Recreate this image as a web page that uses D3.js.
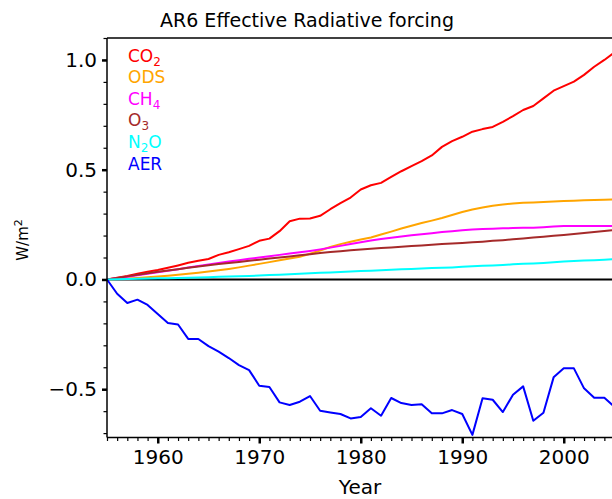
<!DOCTYPE html>
<html>
<head>
<meta charset="utf-8">
<script src="https://cdn.jsdelivr.net/npm/d3@7"></script>
<style>
  html, body { margin: 0; padding: 0; background: #fff; }
  svg { display: block; font-family: "DejaVu Sans", sans-serif; }
</style>
</head>
<body>
<svg id="chart" width="612" height="499"></svg>
<script>
const years = d3.range(1955, 2007);
const co2 = [0.0,0.008,0.016,0.026,0.035,0.043,0.053,0.064,0.076,0.085,0.093,0.112,0.124,0.138,0.153,0.176,0.186,0.22,0.265,0.277,0.278,0.29,0.32,0.348,0.373,0.41,0.429,0.44,0.467,0.493,0.516,0.539,0.565,0.604,0.63,0.65,0.673,0.685,0.695,0.718,0.744,0.772,0.79,0.825,0.86,0.881,0.901,0.932,0.969,1.0,1.035,1.06];
const ods = [0.0,0.002,0.004,0.007,0.01,0.013,0.017,0.021,0.026,0.031,0.036,0.042,0.048,0.055,0.063,0.071,0.079,0.087,0.095,0.103,0.117,0.132,0.148,0.161,0.172,0.182,0.191,0.205,0.218,0.232,0.245,0.257,0.268,0.28,0.294,0.307,0.319,0.328,0.336,0.342,0.346,0.349,0.351,0.353,0.355,0.357,0.359,0.361,0.362,0.363,0.364,0.365];
const ch4 = [0.0,0.006,0.012,0.019,0.026,0.033,0.04,0.047,0.054,0.061,0.068,0.075,0.082,0.088,0.094,0.1,0.106,0.112,0.118,0.124,0.13,0.137,0.145,0.153,0.162,0.17,0.177,0.184,0.19,0.196,0.201,0.206,0.211,0.216,0.22,0.224,0.228,0.23,0.231,0.233,0.234,0.235,0.236,0.238,0.241,0.243,0.243,0.243,0.243,0.243,0.243,0.243];
const o3 = [0.0,0.007,0.014,0.021,0.028,0.035,0.041,0.047,0.053,0.059,0.065,0.07,0.075,0.08,0.085,0.09,0.095,0.1,0.105,0.11,0.115,0.12,0.125,0.129,0.133,0.137,0.14,0.143,0.146,0.149,0.152,0.155,0.158,0.161,0.164,0.166,0.169,0.172,0.176,0.179,0.183,0.187,0.191,0.195,0.199,0.203,0.207,0.212,0.216,0.221,0.225,0.228];
const n2o = [0.0,0.001,0.002,0.003,0.004,0.005,0.006,0.007,0.008,0.009,0.01,0.012,0.013,0.015,0.016,0.018,0.02,0.022,0.024,0.026,0.028,0.03,0.032,0.034,0.036,0.038,0.04,0.042,0.044,0.046,0.048,0.05,0.052,0.053,0.055,0.058,0.06,0.062,0.064,0.066,0.069,0.071,0.073,0.075,0.078,0.082,0.084,0.086,0.088,0.09,0.093,0.095];
const aer = [0.0,-0.065,-0.107,-0.092,-0.116,-0.157,-0.198,-0.205,-0.271,-0.271,-0.304,-0.329,-0.358,-0.39,-0.413,-0.484,-0.49,-0.56,-0.572,-0.557,-0.531,-0.598,-0.606,-0.613,-0.633,-0.627,-0.587,-0.621,-0.54,-0.563,-0.572,-0.569,-0.61,-0.61,-0.595,-0.613,-0.708,-0.541,-0.548,-0.604,-0.525,-0.487,-0.644,-0.607,-0.446,-0.405,-0.405,-0.496,-0.539,-0.539,-0.58,-0.6];

const seriesNames = ["CO2","ODS","CH4","O3","N2O","AER"];
const seriesColors = ["#ff0000","#ffa500","#ff00ff","#a52a2a","#00ffff","#0000ff"];
const seriesValues = [co2, ods, ch4, o3, n2o, aer];
const legendParts = [["CO","2"],["ODS",""],["CH","4"],["O","3"],["N","2","O"],["AER",""]];
const xTicks = [1960, 1970, 1980, 1990, 2000];
const yTicks = [-0.5, 0.0, 0.5, 1.0];

const svg = d3.select("#chart");
const mLeft = 107, mTop = 38, mBottom = 437.5;
const x = d3.scaleLinear().domain([1955, 2020]).range([mLeft, mLeft + 65 * 10.15]);
const y = d3.scaleLinear().domain([-0.72, 1.1]).range([mBottom, mTop]);

// Title
svg.append("text").attr("x", 307).attr("y", 27).attr("text-anchor", "middle")
  .attr("font-size", 19).attr("fill", "#000").text("AR6 Effective Radiative forcing");

// zero line
svg.append("line").attr("x1", x(1955)).attr("x2", x(2020)).attr("y1", y(0)).attr("y2", y(0))
  .attr("stroke", "#000").attr("stroke-width", 2);

// series
const line = d3.line().x((d, i) => x(years[i])).y(d => y(d));
seriesValues.forEach((vals, k) => {
  svg.append("path").datum(vals).attr("d", line).attr("fill", "none")
    .attr("stroke", seriesColors[k]).attr("stroke-width", 2).attr("stroke-linejoin", "round");
});

// Axes
const xAxis = d3.axisBottom(x).tickValues(xTicks).tickFormat(d3.format("d")).tickSize(6).tickPadding(6);
const xMinor = d3.axisBottom(x).tickValues(d3.range(1955, 2007)).tickFormat("").tickSize(3.5);
const yAxis = d3.axisLeft(y).tickValues(yTicks).tickFormat(d3.format(".1f")).tickSize(5).tickPadding(5);
const yMinor = d3.axisLeft(y).tickValues(d3.range(-7, 12).map(v => v / 10)).tickFormat("").tickSize(3.5);

const gxm = svg.append("g").attr("transform", `translate(0,${mBottom})`).call(xMinor);
const gx = svg.append("g").attr("transform", `translate(0,${mBottom})`).call(xAxis);
const gym = svg.append("g").attr("transform", `translate(${mLeft},0)`).call(yMinor);
const gy = svg.append("g").attr("transform", `translate(${mLeft},0)`).call(yAxis);
[gxm, gym].forEach(g => { g.select(".domain").remove(); g.selectAll("line").attr("stroke-width", 1.2); });
[gx, gy].forEach(g => {
  g.select(".domain").remove();
  g.selectAll("line").attr("stroke-width", 2.5);
  g.selectAll("text").attr("font-size", 20).attr("fill", "#000").attr("font-family", "DejaVu Sans");
});
gy.selectAll("text").text(d => (d < 0 ? "\u2212" : "") + Math.abs(d).toFixed(1));

// spines
svg.append("line").attr("x1", mLeft).attr("x2", mLeft).attr("y1", mTop).attr("y2", mBottom).attr("stroke", "#000").attr("stroke-width", 1.5);
svg.append("line").attr("x1", mLeft).attr("x2", 800).attr("y1", mTop).attr("y2", mTop).attr("stroke", "#000").attr("stroke-width", 1.5);
svg.append("line").attr("x1", mLeft).attr("x2", 800).attr("y1", mBottom).attr("y2", mBottom).attr("stroke", "#000").attr("stroke-width", 1.5);

// axis labels
svg.append("text").attr("x", 360).attr("y", 494).attr("text-anchor", "middle").attr("font-size", 20).attr("fill", "#000").text("Year");
const yl = svg.append("text").attr("transform", "translate(28,240) rotate(-90)").attr("text-anchor", "middle")
  .attr("font-size", 15).attr("fill", "#000");
yl.append("tspan").text("W/m");
yl.append("tspan").attr("dy", -6).attr("font-size", 11).text("2");

// legend
const baselines = [61.5, 83, 104.5, 126, 147.5, 169.5];
legendParts.forEach((parts, k) => {
  const t = svg.append("text").attr("x", 128).attr("y", baselines[k]).attr("font-size", 17).attr("fill", seriesColors[k]);
  t.append("tspan").text(parts[0]);
  if (parts[1]) t.append("tspan").attr("dy", 4).attr("font-size", 12).text(parts[1]);
  if (parts[2]) t.append("tspan").attr("dy", -4).text(parts[2]);
});
</script>
</body>
</html>
